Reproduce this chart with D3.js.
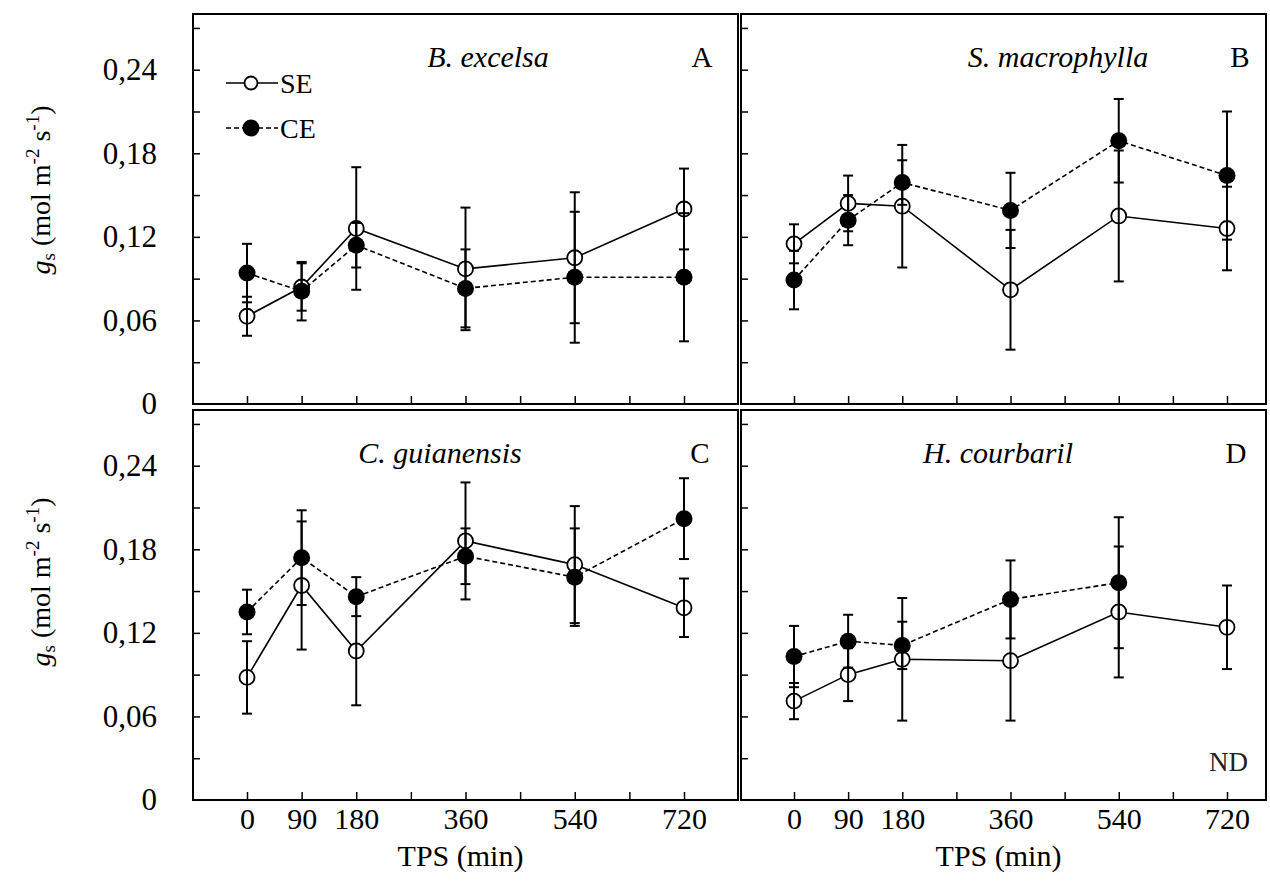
<!DOCTYPE html>
<html>
<head>
<meta charset="utf-8">
<script src="https://cdn.jsdelivr.net/npm/d3@7"></script>
<style>
  body { margin: 0; background: #fff; }
  svg text { font-family: "Liberation Serif", "DejaVu Serif", serif; }
</style>
</head>
<body>
<svg id="chart" width="1270" height="890"></svg>
<script>
const FONT = "'Liberation Serif', 'DejaVu Serif', serif";

// TPS (min) sampling times
const tps = [0, 90, 180, 360, 540, 720];
const tpsTicks = [0, 90, 180, 270, 360, 450, 540, 630, 720];
const tpsLabels = [0, 90, 180, 360, 540, 720];
const yLabelTicks = [0, 0.06, 0.12, 0.18, 0.24];
const yMinorTicks = [0.03, 0.06, 0.09, 0.12, 0.15, 0.18, 0.21, 0.24, 0.27];

// B. excelsa
const seA = [0.063, 0.084, 0.126, 0.097, 0.105, 0.140];
const seAErr = [0.014, 0.017, 0.044, 0.044, 0.047, 0.029];
const ceA = [0.094, 0.081, 0.114, 0.083, 0.091, 0.091];
const ceAErr = [0.021, 0.021, 0.016, 0.028, 0.047, 0.046];

// S. macrophylla
const seB = [0.115, 0.144, 0.142, 0.082, 0.135, 0.126];
const seBErr = [0.014, 0.020, 0.044, 0.043, 0.047, 0.030];
const ceB = [0.089, 0.132, 0.159, 0.139, 0.189, 0.164];
const ceBErr = [0.021, 0.018, 0.016, 0.027, 0.030, 0.046];

// C. guianensis
const seC = [0.088, 0.154, 0.107, 0.186, 0.169, 0.138];
const seCErr = [0.026, 0.046, 0.039, 0.042, 0.042, 0.021];
const ceC = [0.135, 0.174, 0.146, 0.175, 0.160, 0.202];
const ceCErr = [0.016, 0.034, 0.014, 0.020, 0.035, 0.029];

// H. courbaril (no CE value at 720 -> ND)
const seD = [0.071, 0.090, 0.101, 0.100, 0.135, 0.124];
const seDErr = [0.013, 0.019, 0.044, 0.043, 0.047, 0.030];
const ceD = [0.103, 0.114, 0.111, 0.144, 0.156, null];
const ceDErr = [0.022, 0.019, 0.017, 0.028, 0.047, null];

const ptBR = d3.formatLocale({ decimal: ",", thousands: ".", grouping: [3], currency: ["R$", ""] });
const fmtY = (d) => (d === 0 ? "0" : ptBR.format(".2f")(d));

class PanelChart {
  constructor(_config) {
    this.config = _config;
    this.initVis();
  }

  initVis() {
    let vis = this;
    let c = vis.config;

    vis.svg = d3.select("#chart");
    vis.g = vis.svg.append("g").attr("font-family", FONT);

    vis.x = d3.scaleLinear().domain([0, 720]).range([c.x0, c.x720]);
    vis.y = d3.scaleLinear().domain([0, 0.28]).range([c.bottom, c.top]);

    // inward ticks on the left edge
    vis.g.append("g")
      .attr("transform", `translate(${c.left},0)`)
      .call(d3.axisRight(vis.y).tickValues(yMinorTicks).tickSize(7).tickFormat(""))
      .call((g) => g.select(".domain").remove())
      .selectAll("line").attr("stroke", "#000").attr("stroke-width", 1.5);

    // inward ticks on the bottom edge
    vis.g.append("g")
      .attr("transform", `translate(0,${c.bottom})`)
      .call(d3.axisTop(vis.x).tickValues(tpsTicks).tickSize(8).tickFormat(""))
      .call((g) => g.select(".domain").remove())
      .selectAll("line").attr("stroke", "#000").attr("stroke-width", 1.5);

    if (c.showY) {
      vis.g.append("g")
        .attr("transform", `translate(157,0)`)
        .call(d3.axisLeft(vis.y).tickValues(yLabelTicks).tickSize(0).tickPadding(0).tickFormat(fmtY))
        .call((g) => g.select(".domain").remove())
        .attr("font-family", FONT)
        .selectAll("text")
        .attr("font-family", FONT)
        .attr("font-size", 31)
        .attr("fill", "#000");
    }

    if (c.showX) {
      vis.g.append("g")
        .attr("transform", `translate(0,808)`)
        .call(d3.axisBottom(vis.x).tickValues(tpsLabels).tickSize(0).tickPadding(0))
        .call((g) => g.select(".domain").remove())
        .attr("font-family", FONT)
        .selectAll("text")
        .attr("font-family", FONT)
        .attr("font-size", 30)
        .attr("fill", "#000");

      vis.g.append("text")
        .attr("x", (c.left + c.right) / 2 - 5)
        .attr("y", 866)
        .attr("text-anchor", "middle")
        .attr("font-family", FONT)
        .attr("font-size", 30)
        .text("TPS (min)");
    }

    // frame
    vis.g.append("rect")
      .attr("x", c.left).attr("y", c.top)
      .attr("width", c.right - c.left).attr("height", c.bottom - c.top)
      .attr("fill", "none").attr("stroke", "#000").attr("stroke-width", 2);

    vis.seData = tps.map((t, i) => ({ t: t, v: c.se[i], e: c.seErr[i] }));
    vis.ceData = tps.map((t, i) => ({ t: t, v: c.ce[i], e: c.ceErr[i] })).filter((d) => d.v != null);

    let line = d3.line().x((d) => vis.x(d.t)).y((d) => vis.y(d.v));

    vis.g.append("path").datum(vis.seData)
      .attr("d", line).attr("fill", "none").attr("stroke", "#000").attr("stroke-width", 1.6);
    vis.g.append("path").datum(vis.ceData)
      .attr("d", line).attr("fill", "none").attr("stroke", "#000").attr("stroke-width", 1.6)
      .attr("stroke-dasharray", "5,3");

    vis.g.selectAll("circle.se").data(vis.seData).join("circle")
      .attr("class", "se")
      .attr("cx", (d) => vis.x(d.t)).attr("cy", (d) => vis.y(d.v))
      .attr("r", 7.5).attr("fill", "#fff").attr("stroke", "#000").attr("stroke-width", 1.8);

    vis.g.selectAll("circle.ce").data(vis.ceData).join("circle")
      .attr("class", "ce")
      .attr("cx", (d) => vis.x(d.t)).attr("cy", (d) => vis.y(d.v))
      .attr("r", 8.5).attr("fill", "#000");

    // error bars on top
    let allErr = vis.seData.concat(vis.ceData);
    let eb = vis.g.selectAll("g.err").data(allErr).join("g").attr("class", "err")
      .attr("stroke", "#000").attr("stroke-width", 2);
    eb.append("line")
      .attr("x1", (d) => vis.x(d.t)).attr("x2", (d) => vis.x(d.t))
      .attr("y1", (d) => vis.y(d.v + d.e)).attr("y2", (d) => vis.y(d.v - d.e));
    [1, -1].forEach((s) => {
      eb.append("line")
        .attr("x1", (d) => vis.x(d.t) - 5).attr("x2", (d) => vis.x(d.t) + 5)
        .attr("y1", (d) => vis.y(d.v + s * d.e)).attr("y2", (d) => vis.y(d.v + s * d.e));
    });

    // species name + panel letter
    vis.g.append("text")
      .attr("x", c.titleX).attr("y", c.top + 53)
      .attr("text-anchor", "middle").attr("font-style", "italic").attr("font-size", 30)
      .attr("font-family", FONT)
      .text(c.title);
    vis.g.append("text")
      .attr("x", c.letterX).attr("y", c.top + 53)
      .attr("text-anchor", "middle").attr("font-size", 29)
      .attr("font-family", FONT)
      .text(c.letter);
  }
}

function yTitle(cy) {
  let t = d3.select("#chart").append("text")
    .attr("transform", `translate(50,${cy}) rotate(-90)`)
    .attr("text-anchor", "middle")
    .attr("font-family", FONT)
    .attr("font-size", 28);
  t.append("tspan").attr("font-style", "italic").text("g");
  t.append("tspan").attr("font-size", 19).attr("dy", 5).text("s");
  t.append("tspan").attr("dy", -5).text(" (mol m");
  t.append("tspan").attr("font-size", 19).attr("dy", -11).text("-2");
  t.append("tspan").attr("dy", 11).text(" s");
  t.append("tspan").attr("font-size", 19).attr("dy", -11).text("-1");
  t.append("tspan").attr("dy", 11).text(")");
}

const panels = [
  { letter: "A", title: "B. excelsa", se: seA, seErr: seAErr, ce: ceA, ceErr: ceAErr,
    left: 193, right: 738, top: 14, bottom: 404, x0: 247, x720: 684, titleX: 488, letterX: 702, showY: true, showX: false },
  { letter: "B", title: "S. macrophylla", se: seB, seErr: seBErr, ce: ceB, ceErr: ceBErr,
    left: 741, right: 1266, top: 14, bottom: 404, x0: 794, x720: 1227, titleX: 1058, letterX: 1240, showY: false, showX: false },
  { letter: "C", title: "C. guianensis", se: seC, seErr: seCErr, ce: ceC, ceErr: ceCErr,
    left: 193, right: 738, top: 410, bottom: 800, x0: 247, x720: 684, titleX: 440, letterX: 700, showY: true, showX: true },
  { letter: "D", title: "H. courbaril", se: seD, seErr: seDErr, ce: ceD, ceErr: ceDErr,
    left: 741, right: 1266, top: 410, bottom: 800, x0: 794, x720: 1227, titleX: 998, letterX: 1236, showY: false, showX: true },
];

panels.forEach((p) => new PanelChart(p));

yTitle(190);
yTitle(582);

// legend (panel A)
const svg = d3.select("#chart");
const legend = svg.append("g").attr("transform", "translate(226,0)").attr("font-family", FONT);
const legendItems = [
  { label: "SE", y: 83, dash: null, fill: "#fff", r: 6.5 },
  { label: "CE", y: 128, dash: "5,3", fill: "#000", r: 8.5 },
];
legendItems.forEach((d) => {
  legend.append("line")
    .attr("x1", 0).attr("x2", 52).attr("y1", d.y).attr("y2", d.y)
    .attr("stroke", "#000").attr("stroke-width", 1.6)
    .attr("stroke-dasharray", d.dash);
  legend.append("circle")
    .attr("cx", 25).attr("cy", d.y).attr("r", d.r)
    .attr("fill", d.fill).attr("stroke", "#000").attr("stroke-width", d.fill === "#fff" ? 1.8 : 0);
  legend.append("text")
    .attr("x", 54).attr("y", d.y + 10)
    .attr("font-family", FONT)
    .attr("font-size", 28)
    .text(d.label);
});

// ND note in panel D
svg.append("text")
  .attr("x", 1248).attr("y", 771)
  .attr("text-anchor", "end")
  .attr("font-family", FONT)
  .attr("font-size", 27)
  .attr("fill", "#222")
  .text("ND");
</script>
</body>
</html>
